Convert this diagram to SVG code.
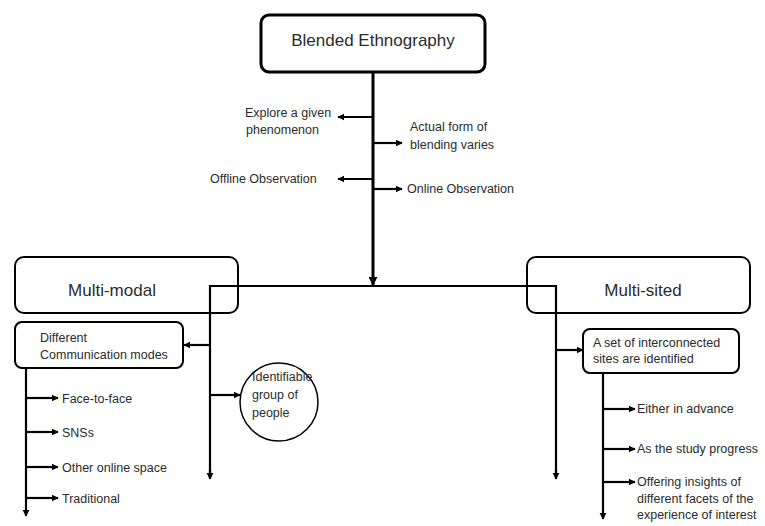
<svg xmlns="http://www.w3.org/2000/svg" width="765" height="526" viewBox="0 0 765 526">
  <defs>
    <marker id="arrow" viewBox="0 0 10 10" refX="9" refY="5" markerWidth="3.2" markerHeight="3.2" orient="auto" markerUnits="strokeWidth">
      <path d="M0,0 L10,5 L0,10 z" fill="#000"/>
    </marker>
    <marker id="arrowBig" viewBox="0 0 10 10" refX="9" refY="5" markerWidth="3" markerHeight="3" orient="auto" markerUnits="strokeWidth">
      <path d="M0,0 L10,5 L0,10 z" fill="#000"/>
    </marker>
  </defs>
  <style>
    .box { fill: #fff; stroke: #000; stroke-width: 2; }
    .boxMain { fill: #fff; stroke: #000; stroke-width: 3; }
    .title { font-family: "Liberation Sans", Arial, sans-serif; font-size: 17px; fill: #2b2b2b; }
    .label { font-family: "Liberation Sans", Arial, sans-serif; font-size: 12.5px; fill: #2b2b2b; }
    .line { fill: none; stroke: #000; stroke-width: 2.2; }
    .branch { fill: none; stroke: #000; stroke-width: 2.2; marker-end: url(#arrow); }
    .trunk { fill: none; stroke: #000; stroke-width: 3; marker-end: url(#arrowBig); }
  </style>

  <rect width="765" height="526" fill="#fff"/>

  <!-- root node -->
  <g id="blended">
    <rect class="boxMain" x="261" y="15" width="224" height="57" rx="8"/>
    <text class="title" x="373" y="46" text-anchor="middle">Blended Ethnography</text>
  </g>

  <!-- main category boxes (drawn under the connector lines) -->
  <g id="multi-modal">
    <rect class="box" x="15" y="257" width="223" height="56" rx="9"/>
    <text class="title" x="112" y="296" text-anchor="middle">Multi-modal</text>
  </g>
  <g id="multi-sited">
    <rect class="box" x="527" y="257" width="223" height="56" rx="9"/>
    <text class="title" x="643" y="296" text-anchor="middle">Multi-sited</text>
  </g>

  <g id="connectors">
    <!-- trunk from root -->
    <line class="trunk" x1="373" y1="72" x2="373" y2="285"/>
    <!-- side notes off the trunk -->
    <line class="branch" x1="373" y1="117" x2="338" y2="117"/>
    <line class="branch" x1="373" y1="143" x2="402" y2="143"/>
    <line class="branch" x1="373" y1="179" x2="338" y2="179"/>
    <line class="branch" x1="373" y1="189" x2="402" y2="189"/>
    <!-- crossbar and the two descending spines -->
    <polyline class="line" points="210,478 210,286 556,286 556,478"/>
    <line class="branch" x1="210" y1="470" x2="210" y2="479"/>
    <line class="branch" x1="556" y1="470" x2="556" y2="479"/>
    <!-- multi-modal side -->
    <line class="branch" x1="210" y1="345" x2="184" y2="345"/>
    <line class="branch" x1="210" y1="395" x2="240" y2="395"/>
    <line class="branch" x1="26" y1="368" x2="26" y2="516"/>
    <line class="branch" x1="26" y1="398" x2="58" y2="398"/>
    <line class="branch" x1="26" y1="432" x2="58" y2="432"/>
    <line class="branch" x1="26" y1="467" x2="58" y2="467"/>
    <line class="branch" x1="26" y1="498" x2="58" y2="498"/>
    <!-- multi-sited side -->
    <line class="branch" x1="556" y1="350" x2="583" y2="350"/>
    <line class="branch" x1="603" y1="373" x2="603" y2="519"/>
    <line class="branch" x1="603" y1="409" x2="635" y2="409"/>
    <line class="branch" x1="603" y1="449" x2="635" y2="449"/>
    <line class="branch" x1="603" y1="482" x2="635" y2="482"/>
  </g>

  <!-- notes along the trunk -->
  <g id="explore">
    <text class="label" x="245" y="117">Explore a given</text>
    <text class="label" x="246" y="134">phenomenon</text>
  </g>
  <g id="actual-form">
    <text class="label" x="410" y="131">Actual form of</text>
    <text class="label" x="410" y="149">blending varies</text>
  </g>
  <g id="offline">
    <text class="label" x="210" y="183">Offline Observation</text>
  </g>
  <g id="online">
    <text class="label" x="407" y="193">Online Observation</text>
  </g>

  <!-- multi-modal children -->
  <g id="communication-modes">
    <rect class="box" x="15" y="322" width="168" height="46" rx="7"/>
    <text class="label" x="40" y="342">Different</text>
    <text class="label" x="40" y="359">Communication modes</text>
  </g>
  <g id="group-of-people">
    <circle cx="279" cy="402" r="39" fill="#fff" stroke="#000" stroke-width="1.5"/>
    <text class="label" x="252" y="381">Identifiable</text>
    <text class="label" x="252" y="399">group of</text>
    <text class="label" x="252" y="417">people</text>
  </g>
  <g id="face-to-face"><text class="label" x="62" y="403">Face-to-face</text></g>
  <g id="snss"><text class="label" x="62" y="437">SNSs</text></g>
  <g id="other-online"><text class="label" x="62" y="472">Other online space</text></g>
  <g id="traditional"><text class="label" x="62" y="503">Traditional</text></g>

  <!-- multi-sited children -->
  <g id="interconnected-sites">
    <rect class="box" x="583" y="329" width="156" height="44" rx="7"/>
    <text class="label" x="593" y="347">A set of interconnected</text>
    <text class="label" x="593" y="363">sites are identified</text>
  </g>
  <g id="in-advance"><text class="label" x="637" y="413">Either in advance</text></g>
  <g id="study-progress"><text class="label" x="637" y="453">As the study progress</text></g>
  <g id="insights">
    <text class="label" x="637" y="486">Offering insights of</text>
    <text class="label" x="637" y="503">different facets of the</text>
    <text class="label" x="637" y="519">experience of interest</text>
  </g>
</svg>
